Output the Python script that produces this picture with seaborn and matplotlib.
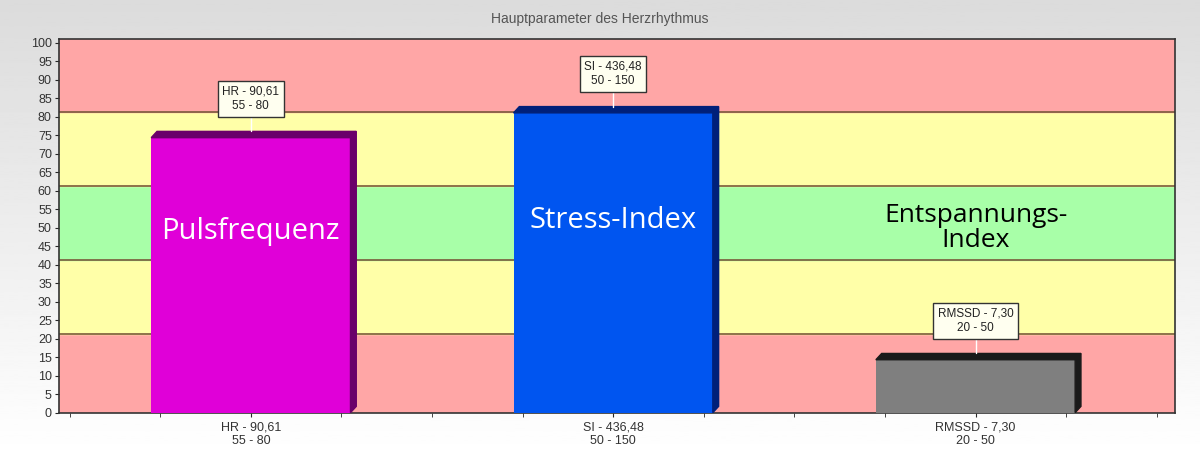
import numpy as np
import pandas as pd
import matplotlib
matplotlib.use("Agg")
import matplotlib.pyplot as plt
from matplotlib.patches import Polygon
import seaborn as sns

# data
params = ["HR", "SI", "RMSSD"]
bar_heights = [74.3, 81.0, 14.3]
value_text = ["90,61", "436,48", "7,30"]
norm_text = ["55 - 80", "50 - 150", "20 - 50"]
bar_colors = ["#E000D8", "#0055F0", "#7F7F7F"]
side_colors = ["#6A006A", "#00207A", "#1A1A1A"]
inner_labels = ["Pulsfrequenz", "Stress-Index", "Entspannungs-\nIndex"]
inner_label_colors = ["white", "white", "black"]
band_edges = [0, 21.3, 41.3, 61.3, 81.3, 101]
band_colors = ["#FFA6A6", "#FFFFA8", "#A8FFA8", "#FFFFA8", "#FFA6A6"]

labels = [f"{p} - {v}\n{n}" for p, v, n in zip(params, value_text, norm_text)]
df = pd.DataFrame({"label": labels, "value": bar_heights})

sns.set_style("white")
plt.rcParams["font.family"] = ["Liberation Sans", "DejaVu Sans"]

fig = plt.figure(figsize=(12, 4.57), dpi=100)

# grey-to-white background
bg = fig.add_axes([0, 0, 1, 1], zorder=-10)
grad = np.linspace(0.86, 1.0, 256).reshape(-1, 1)
bg.imshow(grad, aspect="auto", cmap="gray", vmin=0, vmax=1, extent=[0, 1, 0, 1])
bg.axis("off")

ax = fig.add_axes([0.049, 0.097, 0.930, 0.818])
ax.patch.set_alpha(0)

for lo, hi, c in zip(band_edges[:-1], band_edges[1:], band_colors):
    ax.axhspan(lo, hi, color=c, zorder=0)
for y in band_edges[1:-1]:
    ax.axhline(y, color="#7A5A3A", lw=1.2, zorder=0.5)

sns.barplot(data=df, x="label", y="value", hue="label", palette=bar_colors,
            legend=False, width=0.55, saturation=1, ax=ax, zorder=3,
            edgecolor="none")

ax.set_xlim(-0.53, 2.55)
ax.set_ylim(0, 101)
ax.set_yticks(range(0, 101, 5))
ax.tick_params(axis="y", labelsize=9, length=3, left=True, pad=2)
ax.tick_params(axis="x", labelsize=9, length=3, bottom=True, pad=3)
ax.set_xlabel("")
ax.set_ylabel("")
for t in ax.get_yticklabels() + ax.get_xticklabels():
    t.set_color("#333333")
for s in ax.spines.values():
    s.set_color("#333333")
    s.set_linewidth(1.2)

# minor ticks along the bottom
ax.set_xticks(np.arange(-0.5, 2.51, 0.25), minor=True)
ax.tick_params(axis="x", which="minor", length=3, bottom=True)

# 3d top and side on the bars
bars = [b for c in ax.containers for b in c]
dx, dy = 0.016, 1.7
for i, bar in enumerate(bars):
    x0 = bar.get_x()
    w = bar.get_width()
    h = bar.get_height()
    top = Polygon([(x0, h), (x0 + dx, h + dy), (x0 + w + dx, h + dy), (x0 + w, h)],
                  closed=True, color=side_colors[i], zorder=3)
    side = Polygon([(x0 + w, 0), (x0 + w + dx, dy), (x0 + w + dx, h + dy), (x0 + w, h)],
                   closed=True, color=side_colors[i], zorder=3)
    ax.add_patch(top)
    ax.add_patch(side)

    cx = x0 + w / 2
    ax.plot([cx, cx], [h + dy, h + 6], color="white", lw=1, zorder=4)
    ax.text(cx, h + 10.5, f"{params[i]} - {value_text[i]}\n{norm_text[i]}",
            ha="center", va="center", fontsize=8.5, color="#222222", zorder=5,
            linespacing=1.3,
            bbox=dict(boxstyle="square,pad=0.38", fc="#FFFFF0", ec="#333333", lw=1))

# big labels inside the chart
label_y = [49, 52, 50]
label_size = [21, 21, 19]
for i in range(3):
    ax.text(i, label_y[i], inner_labels[i], ha="center", va="center",
            fontsize=label_size[i], color=inner_label_colors[i], zorder=6,
            family=["Open Sans", "DejaVu Sans"], linespacing=1.0)

fig.text(0.5, 0.958, "Hauptparameter des Herzrhythmus", ha="center", va="center",
         fontsize=10, color="#555555")

fig.savefig("out.png", dpi=100)
